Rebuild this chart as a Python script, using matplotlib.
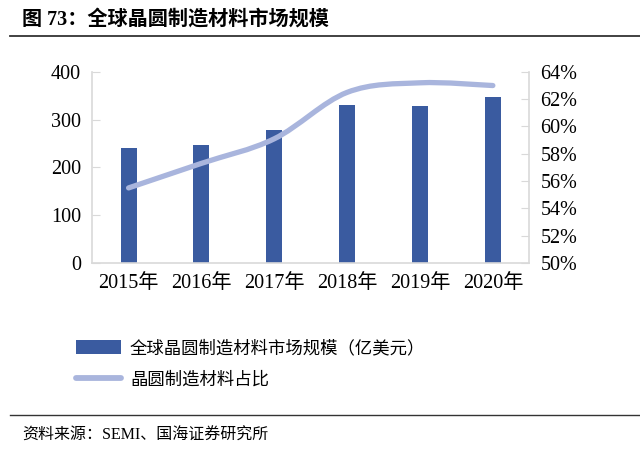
import numpy as np
import matplotlib
matplotlib.use("Agg")
import matplotlib.pyplot as plt
from matplotlib.path import Path
from matplotlib.patches import PathPatch
from matplotlib.lines import Line2D
from matplotlib.patches import Patch

plt.rcParams['font.family'] = ['Liberation Serif', 'Noto Sans CJK SC', 'DejaVu Sans']

years = ['2015年', '2016年', '2017年', '2018年', '2019年', '2020年']
market = [240, 246, 278, 330, 329, 348]          # 亿美元
share = [55.5, 57.3, 59.1, 62.5, 63.2, 63.0]     # %

bar_color = '#3A5BA0'
line_color = '#A9B5DD'
axis_color = '#D9D9D9'

fig = plt.figure(figsize=(6.4, 4.55), dpi=100)
ax = fig.add_axes([0.144, 0.422, 0.683, 0.42])
ax2 = ax.twinx()

x = np.arange(len(years))
ax.bar(x, market, width=0.22, color=bar_color, zorder=2)
ax.set_xlim(-0.5, 5.5)
ax.set_ylim(0, 400)
ax.set_yticks([0, 100, 200, 300, 400])
ax.set_xticks(x)
ax.set_xticklabels(years)

ax2.set_ylim(50, 64)
ax2.set_yticks(np.arange(50, 65, 2))
ax2.set_yticklabels([f'{v}%' for v in range(50, 65, 2)])

# smoothed line (Catmull-Rom -> Bezier), like Excel's smoothed line
pts = np.column_stack([x, share]).astype(float)
verts = [tuple(pts[0])]
codes = [Path.MOVETO]
for i in range(len(pts) - 1):
    p0 = pts[i - 1] if i > 0 else pts[i]
    p1, p2 = pts[i], pts[i + 1]
    p3 = pts[i + 2] if i + 2 < len(pts) else pts[i + 1]
    c1 = p1 + (p2 - p0) / 6
    c2 = p2 - (p3 - p1) / 6
    verts += [tuple(c1), tuple(c2), tuple(p2)]
    codes += [Path.CURVE4] * 3
ax2.add_patch(PathPatch(Path(verts, codes), fill=False, edgecolor=line_color,
                        lw=3.8, capstyle='round', zorder=3))

for a in (ax, ax2):
    for s in a.spines.values():
        s.set_visible(False)
ax.spines['left'].set_visible(True)
ax.spines['bottom'].set_visible(True)
ax2.spines['right'].set_visible(True)
for s in (ax.spines['left'], ax.spines['bottom'], ax2.spines['right']):
    s.set_color(axis_color)
    s.set_linewidth(1.2)

ax.tick_params(axis='y', direction='in', length=6, color=axis_color, labelsize=14.5, pad=8)
ax.tick_params(axis='x', length=0, labelsize=14.5, pad=8)
ax2.tick_params(axis='y', direction='in', length=6, color=axis_color, labelsize=14.5, pad=8)

# title and rules
fig.text(0.034, 0.958, '图 73：全球晶圆制造材料市场规模', fontsize=14.5, fontweight='bold',
         va='center', ha='left', family=['Liberation Serif', 'Noto Sans CJK SC'])
fig.add_artist(Line2D([0.016, 1.0], [1 - 36 / 455] * 2, color='#333333', lw=1.3))
fig.add_artist(Line2D([0.016, 1.0], [1 - 415 / 455] * 2, color='#333333', lw=1.0))
fig.text(0.034, 1 - 436 / 455, '资料来源：SEMI、国海证券研究所', fontsize=11.5,
         va='center', ha='left')

handles = [Patch(facecolor=bar_color, edgecolor='none'),
           Line2D([0], [0], color=line_color, lw=4.2, solid_capstyle='round')]
labels = ['全球晶圆制造材料市场规模（亿美元）', '晶圆制造材料占比']
fig.legend(handles, labels, loc='upper left', bbox_to_anchor=(0.108, 1 - 333 / 455),
           frameon=False, fontsize=12.5, handlelength=2.6, handleheight=0.9,
           handletextpad=0.5, labelspacing=0.8, borderaxespad=0)

fig.savefig('out.png', dpi=100)
